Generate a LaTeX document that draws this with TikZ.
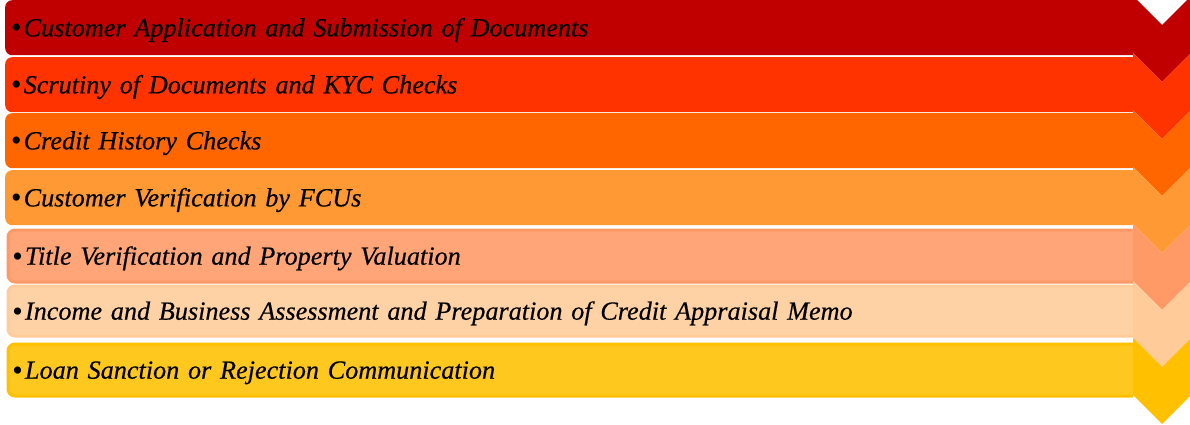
\documentclass[tikz,border=0pt]{standalone}
\usepackage{fontspec}
\setmainfont{Liberation Serif}[ItalicFont={Liberation Serif Italic},ItalicFeatures={FakeBold=0.4}]
\definecolor{cA}{HTML}{C00000}
\definecolor{cB}{HTML}{FF3300}
\definecolor{cC}{HTML}{FF6600}
\definecolor{cD}{HTML}{FF9933}
\definecolor{cE}{HTML}{FF9966}
\definecolor{cF}{HTML}{FFCC99}
\definecolor{cG}{HTML}{FFC000}
\newcommand{\bul}{\raisebox{-1.5pt}{\fontsize{30}{30}\selectfont\upshape •}\hspace{2pt}}
\begin{document}
\begin{tikzpicture}[x=1pt,y=-1pt,
  bar/.style={anchor=north west, rounded corners=7pt, inner ysep=0pt, inner xsep=6pt,
    text width=1140pt, align=left, text height=17.4pt, text depth=0pt,
    font=\fontsize{26.2}{32}\selectfont\itshape, text=black, minimum height=55pt},
  plainbar/.style={bar, fill=#1},
  rimbar/.style={bar, fill=#1!88!white, draw=#1, line width=3pt, inner xsep=4.5pt, minimum height=52pt}]
\useasboundingbox (0,0) rectangle (1190,424);
\fill[white] (0,0) rectangle (1190,424);
\begin{scope}
\clip (0,-5) rectangle (1133,430);
\node[plainbar=cA] (b1) at (5,0)   {\bul Customer Application and Submission of Documents};
\node[plainbar=cB] (b2) at (5,57)  {\bul Scrutiny of Documents and KYC Checks};
\node[plainbar=cC] (b3) at (5,113) {\bul Credit History Checks};
\node[plainbar=cD] (b4) at (5,170) {\bul Customer Verification by FCUs};
\node[rimbar=cE]   (b5) at (6.5,228.5) {\bul Title Verification and Property Valuation};
\node[rimbar=cF, minimum height=50pt] (b6) at (6.5,284.5) {\bul Income and Business Assessment and Preparation of Credit Appraisal Memo};
\node[rimbar=cG]   (b7) at (6.5,342.5) {\bul Loan Sanction or Rejection Communication};
\end{scope}
\foreach \c [count=\i from 0] in {cA,cB,cC,cD,cE,cF,cG} {
  \pgfmathsetmacro\t{-4+57*\i}
  \fill[\c] (1133,\t) -- (1162,{\t+29}) -- (1191,\t) -- (1191,{\t+57}) -- (1162,{\t+86}) -- (1133,{\t+57}) -- cycle;
}
\end{tikzpicture}
\end{document}
